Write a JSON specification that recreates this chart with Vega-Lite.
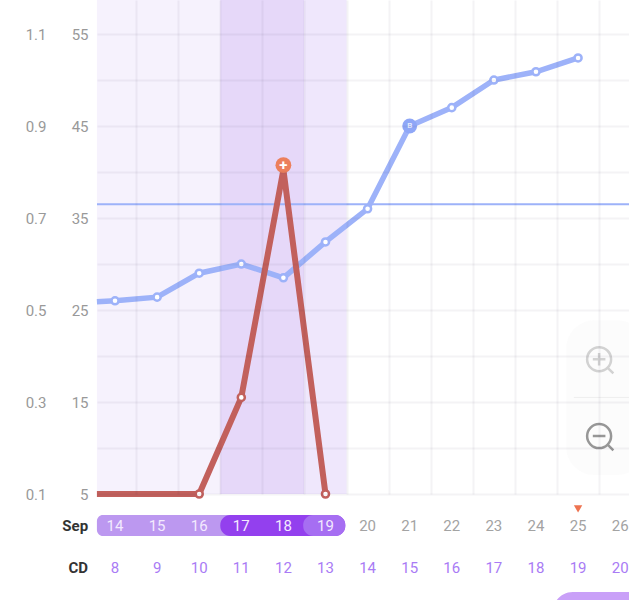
{
  "$schema": "https://vega.github.io/schema/vega-lite/v6.json",
  "width": 532,
  "height": 494,
  "autosize": "none",
  "padding": {"left": 97, "top": 0, "right": 0, "bottom": 106},
  "background": "white",
  "config": {
    "font": "Roboto",
    "view": {"stroke": null},
    "text": {"font": "Roboto"}
  },
  "datasets": {
    "temp": [
      {"cd": 7.57, "value": 25.9},
      {"cd": 8, "value": 26.0},
      {"cd": 9, "value": 26.4},
      {"cd": 10, "value": 29.0},
      {"cd": 11, "value": 30.0},
      {"cd": 12, "value": 28.5},
      {"cd": 13, "value": 32.4},
      {"cd": 14, "value": 36.0},
      {"cd": 15, "value": 45.0},
      {"cd": 16, "value": 47.0},
      {"cd": 17, "value": 50.0},
      {"cd": 18, "value": 50.9},
      {"cd": 19, "value": 52.4}
    ],
    "lh": [
      {"cd": 7.57, "value": 0.1},
      {"cd": 10, "value": 0.1},
      {"cd": 11, "value": 0.31},
      {"cd": 12, "value": 0.805},
      {"cd": 13, "value": 0.1}
    ],
    "phases": [
      {"phase": "period", "start": 7.57, "end": 10.5},
      {"phase": "fertile", "start": 10.5, "end": 12.5},
      {"phase": "after", "start": 12.5, "end": 13.5}
    ],
    "days": [
      {"cd": 8, "sep": 14}, {"cd": 9, "sep": 15}, {"cd": 10, "sep": 16},
      {"cd": 11, "sep": 17}, {"cd": 12, "sep": 18}, {"cd": 13, "sep": 19},
      {"cd": 14, "sep": 20}, {"cd": 15, "sep": 21}, {"cd": 16, "sep": 22},
      {"cd": 17, "sep": 23}, {"cd": 18, "sep": 24}, {"cd": 19, "sep": 25},
      {"cd": 20, "sep": 26}
    ]
  },
  "layer": [
    {
      "layer": [
        {
          "data": {"name": "phases"},
          "mark": {"type": "rect"},
          "encoding": {
            "x": {
              "field": "start",
              "type": "quantitative",
              "scale": {"domain": [7.572, 20.21], "nice": false, "zero": false},
              "axis": {
                "values": [8.5, 9.5, 10.5, 11.5, 12.5, 13.5, 14.5, 15.5, 16.5, 17.5, 18.5, 19.5],
                "title": null,
                "labels": false,
                "ticks": false,
                "domain": false,
                "grid": true,
                "gridColor": "#3a2a4a",
                "gridOpacity": 0.055,
                "gridWidth": 2,
                "zindex": 1
              }
            },
            "x2": {"field": "end"},
            "y": {
              "datum": 5,
              "type": "quantitative",
              "scale": {"domain": [5, 58.7], "nice": false, "zero": false},
              "axis": {
                "values": [5, 10, 15, 20, 25, 30, 35, 40, 45, 50, 55],
                "labelExpr": "datum.value % 10 == 5 ? datum.label : ''",
                "title": null,
                "ticks": false,
                "domain": false,
                "grid": true,
                "gridColor": "#3a2a4a",
                "gridOpacity": 0.055,
                "gridWidth": 2,
                "labelColor": "#999999",
                "labelFontSize": 15,
                "labelPadding": 9,
                "zindex": 1
              }
            },
            "y2": {"datum": 58.7},
            "color": {
              "field": "phase",
              "type": "nominal",
              "legend": null,
              "scale": {"domain": ["period", "fertile", "after"], "range": ["#F6F2FD", "#E6D8F9", "#EFE7FC"]}
            }
          }
        },
        {
          "data": {"values": [{"level": 36.5}]},
          "mark": {"type": "rule", "color": "#9DB2F9", "strokeWidth": 2},
          "encoding": {"y": {"field": "level", "type": "quantitative"}}
        },
        {
          "data": {"name": "temp"},
          "mark": {"type": "line", "color": "#9DB2F9", "strokeWidth": 5.5},
          "encoding": {
            "x": {"field": "cd", "type": "quantitative"},
            "y": {"field": "value", "type": "quantitative"}
          }
        },
        {
          "data": {"name": "temp"},
          "transform": [{"filter": "datum.cd >= 8 && datum.cd != 15"}],
          "mark": {"type": "point", "filled": true, "fill": "white", "stroke": "#9DB2F9", "strokeWidth": 2.5, "size": 50, "opacity": 1},
          "encoding": {
            "x": {"field": "cd", "type": "quantitative"},
            "y": {"field": "value", "type": "quantitative"}
          }
        },
        {
          "data": {"values": [{"cd": 15, "value": 45.0, "mark": "B"}]},
          "layer": [
            {
              "mark": {"type": "point", "filled": true, "color": "#8FA7F7", "size": 220, "opacity": 1}
            },
            {
              "mark": {"type": "text", "color": "#E4EAFE", "fontSize": 8, "fontWeight": "bold"},
              "encoding": {"text": {"field": "mark"}}
            }
          ],
          "encoding": {
            "x": {"field": "cd", "type": "quantitative"},
            "y": {"field": "value", "type": "quantitative"}
          }
        },
        {
          "data": {"values": [{"start": 7.57, "end": 12}]},
          "mark": {"type": "rect", "color": "#BC98F0", "cornerRadius": 6},
          "encoding": {
            "x": {"field": "start", "type": "quantitative"},
            "x2": {"field": "end"},
            "y": {"datum": 2.72},
            "y2": {"datum": 0.43}
          }
        },
        {
          "data": {"values": [{"start": 10.5, "end": 13.47}]},
          "mark": {"type": "rect", "color": "#9340EE", "cornerRadius": 10},
          "encoding": {
            "x": {"field": "start", "type": "quantitative"},
            "x2": {"field": "end"},
            "y": {"datum": 2.72},
            "y2": {"datum": 0.43}
          }
        },
        {
          "data": {"values": [{"start": 12.47, "end": 13.47}]},
          "mark": {"type": "rect", "color": "#A66EF2", "cornerRadius": 10},
          "encoding": {
            "x": {"field": "start", "type": "quantitative"},
            "x2": {"field": "end"},
            "y": {"datum": 2.72},
            "y2": {"datum": 0.43}
          }
        },
        {
          "data": {"name": "days"},
          "mark": {"type": "text", "fontSize": 15},
          "encoding": {
            "x": {"field": "cd", "type": "quantitative"},
            "y": {"datum": 1.52},
            "text": {"field": "sep"},
            "color": {
              "condition": {"test": "datum.sep <= 19", "value": "#F3EAFE"},
              "value": "#A3A3A3"
            },
            "fontWeight": {
              "condition": {"test": "datum.sep == 25", "value": "bold"},
              "value": "normal"
            }
          }
        },
        {
          "data": {"name": "days"},
          "mark": {"type": "text", "fontSize": 15, "color": "#A97BF5"},
          "encoding": {
            "x": {"field": "cd", "type": "quantitative"},
            "y": {"datum": -3.04},
            "text": {"field": "cd"}
          }
        },
        {
          "data": {"values": [{"label": "Sep", "level": 1.52}, {"label": "CD", "level": -3.04}]},
          "mark": {"type": "text", "fontSize": 15, "fontWeight": "bold", "color": "#333333", "align": "right"},
          "encoding": {
            "x": {"datum": 7.36},
            "y": {"field": "level", "type": "quantitative"},
            "text": {"field": "label"}
          }
        },
        {
          "data": {"values": [{"cd": 19}]},
          "mark": {"type": "point", "shape": "triangle-down", "filled": true, "color": "#EE7350", "size": 70, "opacity": 1},
          "encoding": {
            "x": {"field": "cd", "type": "quantitative"},
            "y": {"datum": 3.37}
          }
        },
        {
          "data": {"values": [{"start": 18.72, "end": 20.6}]},
          "mark": {"type": "rect", "color": "#FBFBFB", "opacity": 0.8, "cornerRadius": 28},
          "encoding": {
            "x": {"field": "start", "type": "quantitative"},
            "x2": {"field": "end"},
            "y": {"datum": 23.9},
            "y2": {"datum": 7.07}
          }
        },
        {
          "data": {"values": [{"start": 18.9, "end": 20.21}]},
          "mark": {"type": "rule", "color": "#EEEEEE", "strokeWidth": 1},
          "encoding": {
            "x": {"field": "start", "type": "quantitative"},
            "x2": {"field": "end"},
            "y": {"datum": 15.5}
          }
        },
        {
          "data": {"values": [{"cd": 19.5, "level": 19.65}]},
          "mark": {
            "type": "point",
            "filled": false,
            "color": "#D2D2D2",
            "strokeWidth": 2.5,
            "size": 900,
            "opacity": 1,
            "shape": "M-0.8,0 A0.8,0.8 0 1 1 0.8,0 A0.8,0.8 0 1 1 -0.8,0 M0.57,0.57 L0.95,0.95 M-0.42,0 L0.42,0 M0,-0.42 L0,0.42"
          },
          "encoding": {
            "x": {"field": "cd", "type": "quantitative"},
            "y": {"field": "level", "type": "quantitative"}
          }
        },
        {
          "data": {"values": [{"cd": 19.5, "level": 11.3}]},
          "mark": {
            "type": "point",
            "filled": false,
            "color": "#979797",
            "strokeWidth": 2.5,
            "size": 900,
            "opacity": 1,
            "shape": "M-0.8,0 A0.8,0.8 0 1 1 0.8,0 A0.8,0.8 0 1 1 -0.8,0 M0.57,0.57 L0.95,0.95 M-0.42,0 L0.42,0"
          },
          "encoding": {
            "x": {"field": "cd", "type": "quantitative"},
            "y": {"field": "level", "type": "quantitative"}
          }
        },
        {
          "data": {"values": [{"start": 18.4, "end": 22}]},
          "mark": {"type": "rect", "color": "#C9A0F8", "cornerRadius": 20},
          "encoding": {
            "x": {"field": "start", "type": "quantitative"},
            "x2": {"field": "end"},
            "y": {"datum": -5.65},
            "y2": {"datum": -12}
          }
        }
      ]
    },
    {
      "layer": [
        {
          "data": {"name": "lh"},
          "mark": {"type": "line", "color": "#C2605C", "strokeWidth": 6},
          "encoding": {
            "x": {"field": "cd", "type": "quantitative"},
            "y": {
              "field": "value",
              "type": "quantitative",
              "scale": {"domain": [0.1, 1.174], "nice": false, "zero": false},
              "axis": {
                "orient": "left",
                "offset": 51,
                "values": [0.1, 0.3, 0.5, 0.7, 0.9, 1.1],
                "format": ".1f",
                "title": null,
                "ticks": false,
                "domain": false,
                "grid": false,
                "labelColor": "#999999",
                "labelFontSize": 15,
                "labelPadding": 0
              }
            }
          }
        },
        {
          "data": {"name": "lh"},
          "transform": [{"filter": "datum.cd >= 10 && datum.cd != 12"}],
          "mark": {"type": "point", "filled": true, "fill": "white", "stroke": "#C2605C", "strokeWidth": 2.5, "size": 50, "opacity": 1},
          "encoding": {
            "x": {"field": "cd", "type": "quantitative"},
            "y": {"field": "value", "type": "quantitative"}
          }
        },
        {
          "data": {"values": [{"cd": 12, "value": 0.815, "mark": "+"}]},
          "layer": [
            {
              "mark": {"type": "point", "filled": true, "color": "#EC7F5C", "size": 250, "opacity": 1}
            },
            {
              "mark": {"type": "text", "color": "white", "fontSize": 15, "fontWeight": "bold"},
              "encoding": {"text": {"field": "mark"}}
            }
          ],
          "encoding": {
            "x": {"field": "cd", "type": "quantitative"},
            "y": {"field": "value", "type": "quantitative"}
          }
        }
      ]
    }
  ],
  "resolve": {"scale": {"y": "independent"}, "axis": {"y": "independent"}}
}
